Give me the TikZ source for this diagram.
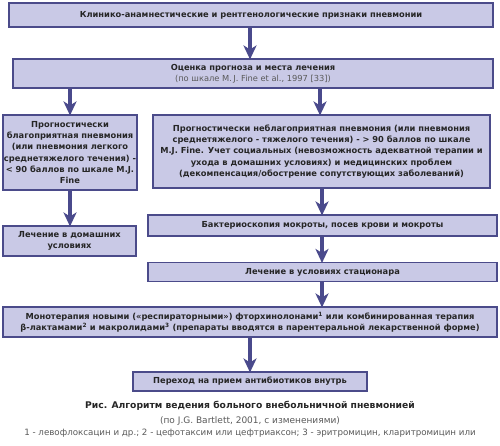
\documentclass[tikz,border=0pt]{standalone}
\usepackage{fontspec}
\setmainfont{DejaVu Sans}
\usetikzlibrary{arrows.meta}
\definecolor{boxfill}{HTML}{C9C9E6}
\definecolor{boxline}{HTML}{4B4B8A}
\definecolor{arrowcol}{HTML}{4A4A8C}
\definecolor{txt}{HTML}{262626}
\definecolor{gtxt}{HTML}{5A5A5A}
\tikzset{
  box/.style={draw=boxline,fill=boxfill,line width=1.1pt,inner sep=1pt,align=center,
    text=txt,font=\fontsize{8.3}{11.2}\selectfont\bfseries},
  arr/.style={draw=arrowcol,line width=3.6pt,
    -{Stealth[length=14pt,width=13pt,inset=4pt]},shorten >=-1pt}
}
\begin{document}
\begin{tikzpicture}[x=1pt,y=-1pt]
  \useasboundingbox[fill=white] (0,0) rectangle (500,446);
  \node[box,minimum width=484pt,minimum height=24pt] (signs) at (251,15)
    {Клинико-анамнестические и рентгенологические признаки пневмонии};
  \node[box,minimum width=480pt,minimum height=29pt] (prognosis) at (253,73.5)
    {Оценка прогноза и места лечения\\
     {\mdseries\color{gtxt}(по шкале M.\,J. Fine et al., 1997 [33])}};
  \node[box,minimum width=134pt,minimum height=75pt] (mild) at (70,152.5)
    {Прогностически\\ благоприятная пневмония\\ (или пневмония легкого\\
     среднетяжелого течения) -\\ < 90 баллов по шкале M.J.\\ Fine};
  \node[box,minimum width=133pt,minimum height=30pt] (home) at (69.5,241)
    {Лечение в домашних\\ условиях};
  \node[box,minimum width=337pt,minimum height=73pt] (severe) at (321.5,151.5)
    {Прогностически неблагоприятная пневмония (или пневмония\\
     среднетяжелого - тяжелого течения) - > 90 баллов по шкале\\
     M.J. Fine. Учет социальных (невозможность адекватной терапии и\\
     ухода в домашних условиях) и медицинских проблем\\
     (декомпенсация/обострение сопутствующих заболеваний)};
  \node[box,minimum width=349pt,minimum height=21pt] (culture) at (322.5,225.5)
    {Бактериоскопия мокроты, посев крови и мокроты};
  \node[box,minimum width=349pt,minimum height=19pt] (hospital) at (322.5,272)
    {Лечение в условиях стационара};
  \node[box,minimum width=494pt,minimum height=30pt] (therapy) at (250,322)
    {Монотерапия новыми («респираторными») фторхинолонами\textsuperscript{1} или комбинированная терапия\\
     β-лактамами\textsuperscript{2} и макролидами\textsuperscript{3} (препараты вводятся в парентеральной лекарственной форме)};
  \node[box,minimum width=234pt,minimum height=19pt] (oral) at (250,381.5)
    {Переход на прием антибиотиков внутрь};
  % arrows
  \draw[arr] (signs.south -| 250,0) -- (prognosis.north -| 250,0);
  \draw[arr] (prognosis.south -| mild.north) -- (mild.north);
  \draw[arr] (prognosis.south -| 320,0) -- (severe.north -| 320,0);
  \draw[arr] (mild.south) -- (home.north -| mild.south);
  \draw[arr] (severe.south -| 322,0) -- (culture.north -| 322,0);
  \draw[arr] (culture.south -| 322,0) -- (hospital.north -| 322,0);
  \draw[arr] (hospital.south -| 322,0) -- (therapy.north -| 322,0);
  \draw[arr] (therapy.south -| oral.north) -- (oral.north);
  % caption
  \node[text=txt,font=\fontsize{9.2}{12}\selectfont\bfseries] (title) at (250,406)
    {Рис. Алгоритм ведения больного внебольничной пневмонией};
  \node[text=gtxt,font=\fontsize{9}{10}\selectfont] (source) at (250,421)
    {(по J.G. Bartlett, 2001, с изменениями)};
  \node[text=gtxt,font=\fontsize{8.7}{10}\selectfont] (notes) at (250,433.5)
    {1 - левофлоксацин и др.; 2 - цефотаксим или цефтриаксон; 3 - эритромицин, кларитромицин или};
\end{tikzpicture}
\end{document}
